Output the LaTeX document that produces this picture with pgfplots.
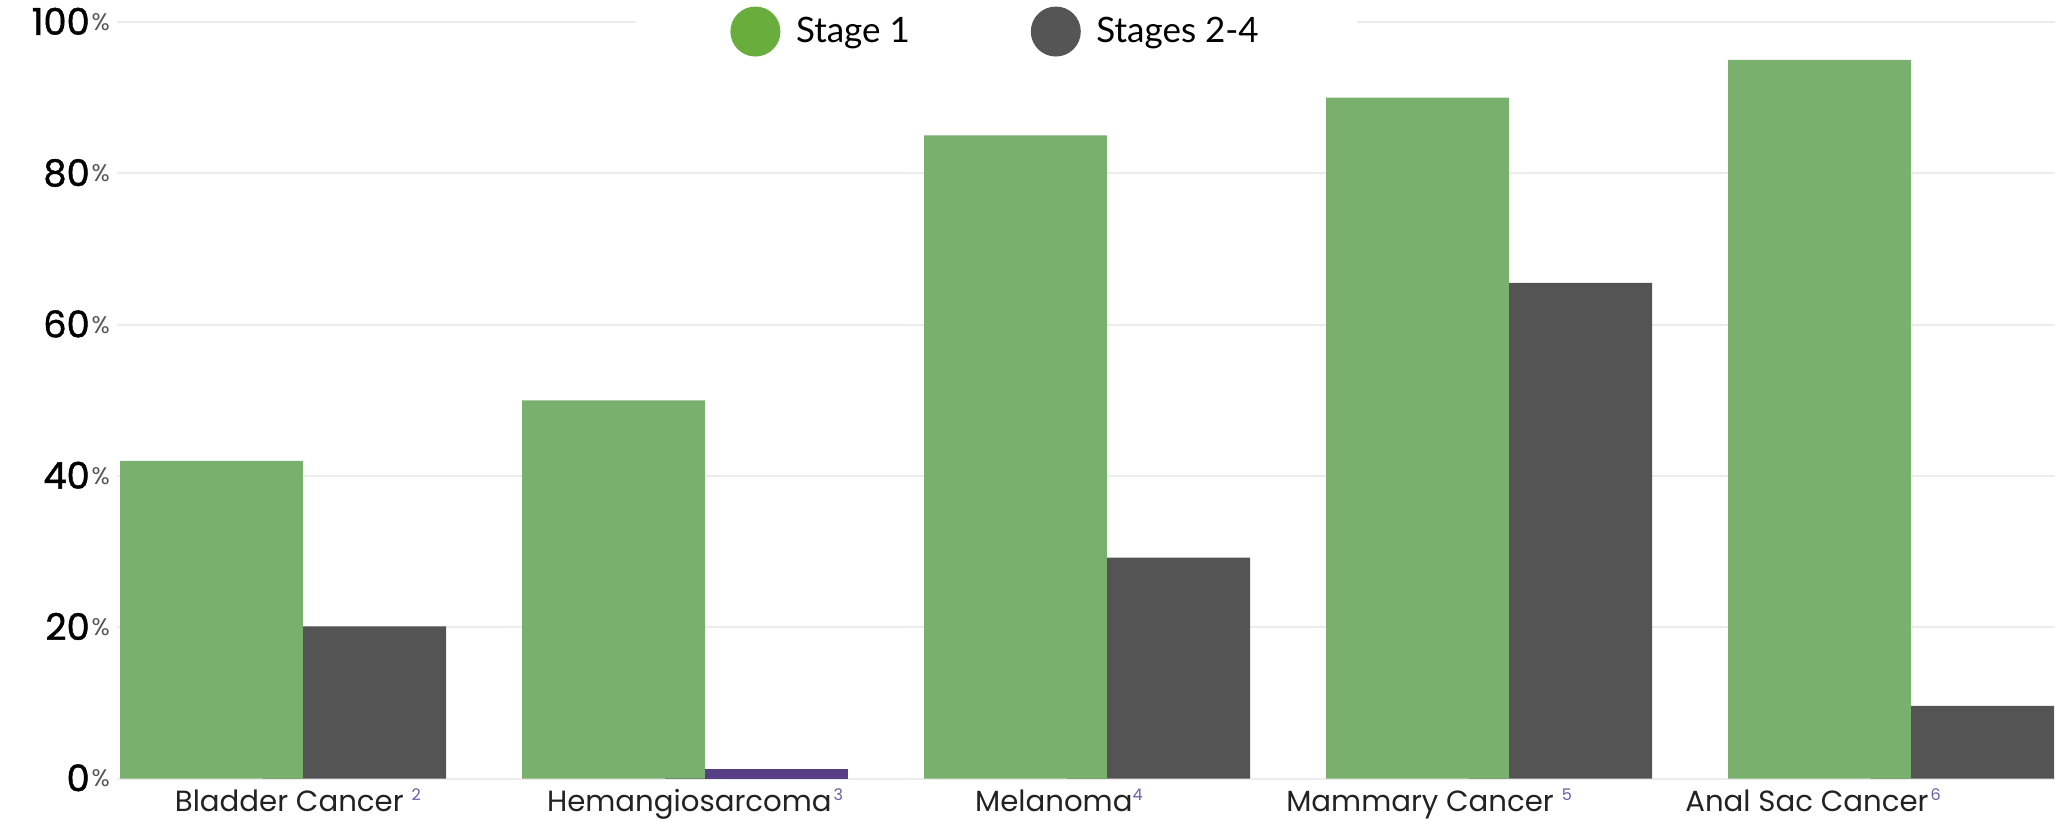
\documentclass[border=0pt]{standalone}
\usepackage{pgfplots}
\pgfplotsset{compat=1.18}
\usepackage{fontspec}
\setmainfont{Poppins}
\newfontfamily\legfont{Lato}
\newfontfamily\tickfont{Poppins}[FakeBold=1.2]
\usetikzlibrary{calc}

\definecolor{barGreen}{HTML}{7AB06D}
\definecolor{barDark}{HTML}{545454}
\definecolor{barPurple}{HTML}{573F86}
\definecolor{legGreen}{HTML}{69AE3C}
\definecolor{legDark}{HTML}{555555}
\definecolor{gridGray}{HTML}{ECECEC}
\definecolor{pctGray}{HTML}{555555}
\definecolor{supPurple}{HTML}{6A5CA8}
\definecolor{labGray}{HTML}{222222}

\newcommand{\fn}[1]{\raisebox{5.5pt}{\fontsize{8}{8}\selectfont\color{supPurple}#1}}

\begin{document}
\begin{tikzpicture}
\begin{axis}[
    scale only axis,
    width=969pt, height=378.25pt,
    xmin=-0.413, xmax=4.408,
    ymin=0, ymax=100,
    ybar,
    bar width=0.455,
    axis line style={draw=none},
    tick style={draw=none},
    ymajorgrids,
    major grid style={color=gridGray, line width=1pt},
    ytick={0,20,...,100},
    yticklabel={{\tickfont\fontsize{18.4}{18.4}\selectfont\pgfmathprintnumber[assume math mode=true]{\tick}}\hspace{1pt}\raisebox{2.2pt}{\fontsize{12}{12}\selectfont\color{pctGray}\%}},
    yticklabel style={anchor=base east, yshift=-6.4pt, text=black},
    xtick={0.037,1.025,1.93,2.851,3.806},
    xticklabels={Bladder Cancer\hspace{4pt}\fn{2}, Hemangiosarcoma\hspace{1pt}\fn{3}, Melanoma\fn{4}, Mammary Cancer\hspace{4pt}\fn{5}, Anal Sac Cancer\hspace{1pt}\fn{6}},
    xticklabel style={anchor=base, yshift=-12.3pt, text=labGray, font=\fontsize{14.6}{16}\selectfont},
    legend columns=2,
    legend cell align=left,
    legend image code/.code={\fill[#1, draw=none] (0pt,0pt) circle (12.5pt);},
    legend style={
        at={(axis description cs:0.2678,0.9874)}, anchor=west,
        fill=white, draw=none,
        inner xsep=47pt, inner ysep=4pt,
        font=\legfont\fontsize{17.5}{20}\selectfont,
        /tikz/every odd column/.append style={column sep=5.8pt},
        /tikz/every even column/.append style={column sep=58.5pt},
    },
]
% stages 2-4 (drawn first, green overlaps it)
\addplot[fill=barDark, draw=none, bar shift=0.178, forget plot]
    coordinates {(0,20.1) (2,29.2) (3,65.5) (4,9.6)};
\addplot[fill=barPurple, draw=none, bar shift=0.178, forget plot]
    coordinates {(1,1.2)};
% stage 1
\addplot[fill=barGreen, draw=none, bar shift=-0.178, forget plot]
    coordinates {(0,42) (1,50) (2,85) (3,90) (4,95)};

\addlegendimage{fill=legGreen}
\addlegendentry{Stage 1}
\addlegendimage{fill=legDark}
\addlegendentry{Stages 2-4}
\end{axis}
\pgfresetboundingbox
\path ($(current axis.south west)+(-58.5pt,-20.75pt)$) rectangle ($(current axis.north east)+(0pt,11pt)$);
\end{tikzpicture}
\end{document}
